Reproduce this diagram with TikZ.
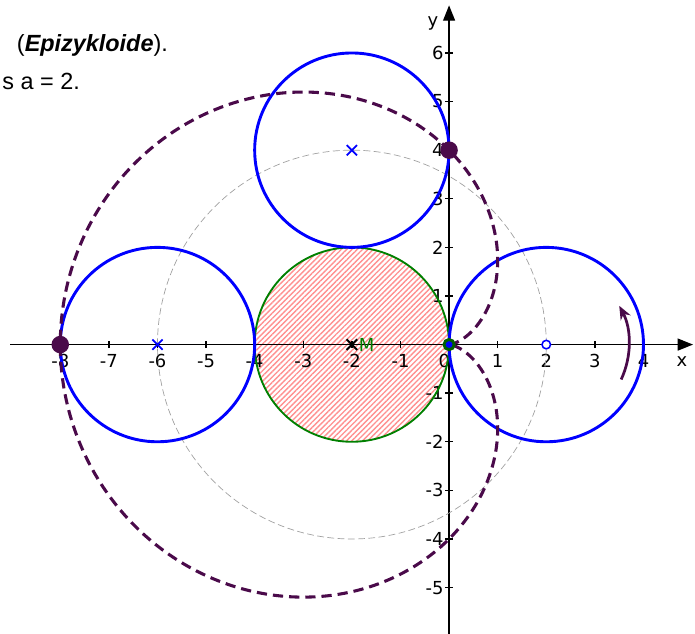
\documentclass[tikz,border=0pt]{standalone}
\usepackage{fontspec}
\setmainfont{DejaVu Sans}
\newfontfamily\headfont{Liberation Sans}
\usetikzlibrary{arrows.meta,patterns.meta,shapes.misc}
\definecolor{kpurple}{HTML}{4A0A4A}
\definecolor{kblue}{HTML}{0000FF}
\definecolor{kgreen}{HTML}{008000}
\definecolor{khatch}{HTML}{FF9090}
\tikzset{
  axisline/.style={line width=0.8pt,draw=black,-{Triangle[length=9pt,width=7pt]}},
  tickmark/.style={line width=0.8pt,draw=black},
  roll/.style={draw=kblue,line width=1.7pt},
  fixedc/.style={draw=kgreen,line width=1.1pt},
  track/.style={draw=gray!75,line width=0.4pt,dash pattern=on 4pt off 2pt},
  cardio/.style={draw=kpurple,line width=1.8pt,dash pattern=on 6pt off 3.5pt},
  bigdot/.style={circle,fill=kpurple,minimum size=0.36cm,inner sep=0pt},
  origdot/.style={circle,fill=kblue,draw=kgreen!75!black,line width=1.7pt,minimum size=0.21cm,inner sep=0pt},
  ctr/.style={cross out,draw=kblue,line width=1pt,minimum size=5pt,inner sep=0pt},
  hollow/.style={circle,draw=kblue,fill=white,line width=0.9pt,minimum size=5pt,inner sep=0pt},
  lbl/.style={font=\fontsize{10.5}{12}\selectfont,inner sep=1pt},
  head/.style={font=\headfont\fontsize{13.7}{16}\selectfont,inner sep=0pt},
  rot/.style={draw=kpurple,line width=1.6pt,-{Stealth[length=8pt,width=6.5pt]}},
}

\begin{document}
\begin{tikzpicture}
  \useasboundingbox (-9.24,-5.94) rectangle (5.06,7.09);
  \clip (-9.24,-5.94) rectangle (5.06,7.09);
  % fixed circle, hatched
  \fill[white] (-2,0) circle[radius=2];
  \fill[pattern={Lines[angle=45,distance=2.2pt,line width=0.8pt]},pattern color=khatch] (-2,0) circle[radius=2];
  % axes
  \draw[axisline] (-9.03,0) -- (5.02,0);
  \draw[axisline] (0,-6) -- (0,6.98);
  \foreach \i in {-8,...,-1,1,2,3,4} {
    \draw[tickmark] (\i,-0.075) -- (\i,0.075);
    \node[lbl] (xl\i) at (\i,-0.33) {\i};
  }
  \foreach \j in {-5,...,-1,1,2,...,6} {
    \draw[tickmark] (-0.075,\j) -- (0.075,\j);
    \node[lbl,anchor=east] (yl\j) at (-0.07,\j) {\j};
  }
  \node[lbl] (xl0) at (-0.1,-0.33) {0};
  \node[lbl] (xname) at (4.79,-0.36) {x};
  \node[lbl] (yname) at (-0.33,6.6) {y};
  % circles
  \draw[track] (-2,0) circle[radius=4];
  \draw[fixedc] (-2,0) circle[radius=2];
  \draw[roll] (2,0) circle[radius=2];
  \draw[roll] (-6,0) circle[radius=2];
  \draw[roll] (-2,4) circle[radius=2];
  % centres
  \node[cross out,draw=black,line width=1.2pt,minimum size=5pt,inner sep=0pt] (M) at (-2,0) {};
  \node[lbl,text=kgreen,anchor=west] (Mlbl) at (-1.9,0) {M};
  \node[ctr] (c1) at (-6,0) {};
  \node[ctr] (c3) at (-2,4) {};
  \node[hollow] (c2) at (2,0) {};
  % epicycloid (cardioid)
  \draw[cardio] plot[domain=0:360,samples=181,smooth,variable=\t]
    ({-2+4*cos(\t)-2*cos(2*\t)},{4*sin(\t)-2*sin(2*\t)});
  % sense of rotation
  \draw[rot] ([shift={(-25:1.7)}]c2.center) arc[start angle=-25,end angle=28,radius=1.7];
  % points
  \node[bigdot] (P1) at (-8,0) {};
  \node[bigdot] (P2) at (0,4) {};
  \node[origdot] (O) at (0,0) {};
  % text
  \node[head,anchor=base east] (t1) at (-5.78,6.02) {(\textbf{\textit{Epizykloide}}).};
  \node[head,anchor=base east] (t2) at (-7.59,5.25) {s a = 2.};
\end{tikzpicture}
\end{document}
